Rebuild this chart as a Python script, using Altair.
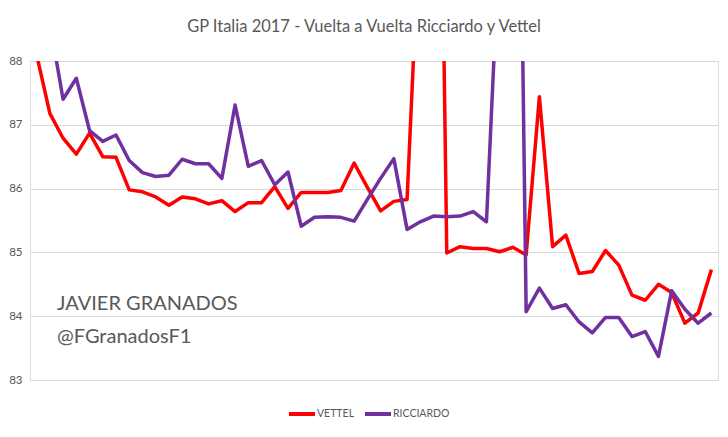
import altair as alt
import pandas as pd

laps = list(range(52))
vettel = [88.1, 87.18, 86.79, 86.54, 86.87, 86.50, 86.49, 85.98, 85.95, 85.87,
          85.74, 85.87, 85.84, 85.76, 85.81, 85.64, 85.78, 85.78, 86.03, 85.69,
          85.94, 85.94, 85.94, 85.97, 86.40, 86.02, 85.65, 85.80, 85.83, 90.4,
          99.8, 84.99, 85.09, 85.06, 85.06, 85.01, 85.08, 84.96, 87.44, 85.09,
          85.27, 84.67, 84.70, 85.03, 84.80, 84.33, 84.25, 84.50, 84.37, 83.89,
          84.05, 84.73]
ricciardo = [89.5, 88.6, 87.40, 87.73, 86.91, 86.74, 86.84, 86.44, 86.25, 86.19,
             86.21, 86.46, 86.39, 86.39, 86.16, 87.31, 86.35, 86.44, 86.06, 86.26,
             85.41, 85.55, 85.56, 85.55, 85.49, 85.83, 86.16, 86.47, 85.36, 85.48,
             85.57, 85.56, 85.57, 85.64, 85.48, 90.0, 99.7, 84.07, 84.44, 84.12,
             84.18, 83.91, 83.74, 83.98, 83.98, 83.68, 83.76, 83.37, 84.40, 84.11,
             83.89, 84.05]
drivers = ["VETTEL", "RICCIARDO"]
colors = ["#FF0000", "#7030A0"]
y_ticks = [83, 84, 85, 86, 87, 88]
title_text = "GP Italia 2017 - Vuelta a Vuelta Ricciardo y Vettel"
watermark = ["JAVIER GRANADOS", "@FGranadosF1"]

df = pd.DataFrame({
    "lap": laps + laps,
    "time": vettel + ricciardo,
    "driver": [drivers[0]] * len(laps) + [drivers[1]] * len(laps),
    "order": [0] * len(laps) + [1] * len(laps),
})

FONT = "Lato"
GREY = "#595959"

lines = alt.Chart(df).mark_line(clip=True, strokeWidth=3.5, strokeJoin="round").encode(
    x=alt.X("lap:Q", axis=None, scale=alt.Scale(domain=[-0.5, 51.5], nice=False, zero=False)),
    y=alt.Y("time:Q", title=None,
            scale=alt.Scale(domain=[83, 88], nice=False, zero=False),
            axis=alt.Axis(values=y_ticks, grid=True, gridColor="#D9D9D9", domain=False,
                          ticks=False, labelColor=GREY, labelFontSize=11.5, labelFont=FONT,
                          labelPadding=8)),
    color=alt.Color("driver:N",
                    scale=alt.Scale(domain=drivers, range=colors),
                    legend=alt.Legend(title=None, orient="none", legendX=257, legendY=338,
                                      direction="horizontal", symbolType="stroke",
                                      symbolStrokeWidth=4, symbolSize=676,
                                      labelFont=FONT, labelFontSize=10.5, labelColor=GREY,
                                      columnPadding=2, labelOffset=0, padding=0)),
    order=alt.Order("order:Q"),
)

title = alt.Chart(pd.DataFrame({"t": [title_text]})).mark_text(
    align="center", baseline="alphabetic", font=FONT, fontSize=16.5, color=GREY
).encode(x=alt.value(334), y=alt.value(-29), text="t:N")

wm1 = alt.Chart(pd.DataFrame({"t": [watermark[0]]})).mark_text(
    align="left", baseline="alphabetic", font=FONT, fontSize=20, color=GREY
).encode(x=alt.value(27), y=alt.value(249), text="t:N")

wm2 = alt.Chart(pd.DataFrame({"t": [watermark[1]]})).mark_text(
    align="left", baseline="alphabetic", font=FONT, fontSize=20, color=GREY
).encode(x=alt.value(27), y=alt.value(282), text="t:N")

chart = alt.layer(lines, title, wm1, wm2).properties(
    width=688, height=319,
    autosize=alt.AutoSizeParams(type="none"),
    padding={"left": 22, "top": 53, "right": 2, "bottom": 56},
).configure_view(stroke=None).configure(background="white")

chart.save("out.html", embed_options={"renderer": "svg", "actions": False})
